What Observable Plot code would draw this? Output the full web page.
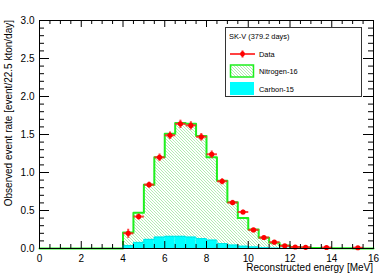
<!DOCTYPE html>
<html><head><meta charset="utf-8">
<script src="https://cdn.jsdelivr.net/npm/d3@7"></script>
<script src="https://cdn.jsdelivr.net/npm/@observablehq/plot@0.6"></script>
<style>body{margin:0;background:#fff;font-family:"Liberation Sans",Arial,sans-serif;}</style>
</head><body><div id="chart"></div>
<script>
// Histogram bins (lower edge, MeV), width 0.5 MeV
const binLow = [0,0.5,1,1.5,2,2.5,3,3.5,4,4.5,5,5.5,6,6.5,7,7.5,8,8.5,9,9.5,10,10.5,11,11.5,12,12.5,13,13.5,14,14.5,15,15.5];
const binWidth = 0.5;
// Nitrogen-16 MC (event/22.5 kton/day)
const n16 = [0,0,0,0,0,0,0,0,0.21,0.47,0.84,1.20,1.51,1.65,1.64,1.48,1.20,0.89,0.61,0.40,0.25,0.14,0.075,0.04,0.02,0.012,0.008,0.005,0.003,0.002,0.001,0.001];
// Carbon-15 MC
const c15 = [0,0,0,0,0,0,0,0,0.04,0.08,0.12,0.15,0.16,0.16,0.15,0.13,0.11,0.065,0.045,0.03,0.02,0.01,0.005,0.003,0.002,0.001,0,0,0,0,0,0];
// Data points
const dataE = [4.25,4.75,5.25,5.75,6.25,6.75,7.25,7.75,8.25,8.75,9.25,9.75,10.25,10.75,11.25,11.75,12.25,12.75,13.75,15.25];
const dataRate = [0.20,0.42,0.84,1.20,1.49,1.64,1.62,1.47,1.24,0.885,0.605,0.48,0.245,0.145,0.083,0.035,0.02,0.015,0.013,0.01];
const dataErr = [0.06,0.04,0.04,0.05,0.05,0.055,0.055,0.05,0.05,0.04,0.035,0.03,0.02,0.015,0.012,0.01,0.008,0.006,0.006,0.005];
// Axis ticks
const xMajor = [0,2,4,6,8,10,12,14,16];
const yMajor = [0,0.5,1,1.5,2,2.5,3];
const xMinor = d3.range(0, 16.01, 0.5).filter(v => v % 2 !== 0);
const yMinor = d3.range(0, 3.001, 0.1).map(v => +v.toFixed(1)).filter(v => Math.abs(v*2 - Math.round(v*2)) > 1e-6);
const xLabel = "Reconstructed energy [MeV]";
const yLabel = "Observed event rate [event/22.5 kton/day]";
const legendTitle = "SK-V (379.2 days)";
const legendItems = ["Data", "Nitrogen-16", "Carbon-15"];

const bins = binLow.map((x, i) => ({x1: x, x2: x + binWidth, n16: n16[i], c15: c15[i]}));
const stepN16 = bins.map(b => ({x: b.x1, y: b.n16})).concat([{x: 16, y: n16[n16.length-1]}]);
const stepC15 = bins.map(b => ({x: b.x1, y: b.c15})).concat([{x: 16, y: c15[c15.length-1]}]);
const pts = dataE.map((e, i) => ({e, v: dataRate[i], err: dataErr[i]}));

// tick lengths in data units (x: 16/334 per px, y: 3/228 per px)
const xpx = 16/334, ypx = 3/228;

const plot = Plot.plot({
  width: 389, height: 279,
  marginLeft: 39, marginRight: 16, marginTop: 20, marginBottom: 31,
  x: {domain: [0, 16], axis: null},
  y: {domain: [0, 3], axis: null},
  style: {fontFamily: "'Liberation Sans', Arial, sans-serif", fontSize: "10px", color: "#000"},
  marks: [
    Plot.rectY(bins, {x1: "x1", x2: "x2", y: "n16", fill: "url(#hatch)"}),
    Plot.line(stepN16, {x: "x", y: "y", curve: "step-after", stroke: "#1ef01e", strokeWidth: 2}),
    Plot.rectY(bins, {x1: "x1", x2: "x2", y: "c15", fill: "#00ffff"}),
    Plot.line(stepC15, {x: "x", y: "y", curve: "step-after", stroke: "#00e5e5", strokeWidth: 1}),
    Plot.link(pts, {x1: d => d.e - 0.25, x2: d => d.e + 0.25, y1: "v", y2: "v", stroke: "#ff2020", strokeWidth: 2, strokeOpacity: 0.85}),
    Plot.link(pts, {x1: "e", x2: "e", y1: d => d.v - d.err, y2: d => d.v + d.err, stroke: "#ff2020", strokeWidth: 2, strokeOpacity: 0.85}),
    Plot.dot(pts, {x: "e", y: "v", r: 2.6, fill: "#ff0000", stroke: "none"}),
    Plot.frame({stroke: "#000", strokeWidth: 1}),
    // bottom & top ticks
    Plot.ruleX(xMajor, {x: d => d, y1: 0, y2: 7*ypx, stroke: "#000"}),
    Plot.ruleX(xMinor, {x: d => d, y1: 0, y2: 4*ypx, stroke: "#000"}),
    Plot.ruleX(xMajor, {x: d => d, y1: 3, y2: 3 - 7*ypx, stroke: "#000"}),
    Plot.ruleX(xMinor, {x: d => d, y1: 3, y2: 3 - 4*ypx, stroke: "#000"}),
    // left & right ticks
    Plot.ruleY(yMajor, {y: d => d, x1: 0, x2: 10*xpx, stroke: "#000"}),
    Plot.ruleY(yMinor, {y: d => d, x1: 0, x2: 5*xpx, stroke: "#000"}),
    Plot.ruleY(yMajor, {y: d => d, x1: 16, x2: 16 - 10*xpx, stroke: "#000"}),
    Plot.ruleY(yMinor, {y: d => d, x1: 16, x2: 16 - 5*xpx, stroke: "#000"}),
    // tick labels
    Plot.text(xMajor, {x: d => d, y: 0, text: d => String(d), dy: 10, fill: "#000", fontSize: 10}),
    Plot.text(yMajor, {x: 0, y: d => d, text: d => d.toFixed(1), dx: -5, textAnchor: "end", fill: "#000", fontSize: 10})
  ]
});

const svg = d3.select(plot);
const defs = svg.insert("defs", ":first-child");
const pat = defs.append("pattern").attr("id", "hatch").attr("patternUnits", "userSpaceOnUse")
  .attr("width", 3).attr("height", 3);
pat.append("rect").attr("width", 3).attr("height", 3).attr("fill", "#fff");
pat.append("path").attr("d", "M-1,-1L4,4M-1,2L1,4M2,-1L4,1").attr("stroke", "#9ee89e").attr("stroke-width", 0.8);

// axis titles
svg.append("text").attr("x", 373).attr("y", 271).attr("text-anchor", "end")
  .attr("font-size", 10).attr("fill", "#000").text(xLabel);
svg.append("text").attr("transform", "translate(12,20) rotate(-90)").attr("text-anchor", "end")
  .attr("font-size", 10).attr("fill", "#000").text(yLabel);

// legend
const lg = svg.append("g").attr("font-size", 7.4).attr("text-anchor", "start");
lg.append("rect").attr("x", 225.5).attr("y", 27.5).attr("width", 136).attr("height", 69)
  .style("fill", "#fff").style("stroke", "#333").style("stroke-width", "1px");
lg.append("text").attr("x", 229).attr("y", 39).attr("fill", "#000").attr("text-anchor", "start").text(legendTitle);
lg.append("line").attr("x1", 230).attr("x2", 255).attr("y1", 54).attr("y2", 54).attr("stroke", "#ff2020").attr("stroke-width", 2).attr("stroke-opacity", 0.85);
lg.append("line").attr("x1", 242.5).attr("x2", 242.5).attr("y1", 50.5).attr("y2", 57.5).attr("stroke", "#ff2020").attr("stroke-width", 2);
lg.append("circle").attr("cx", 242.5).attr("cy", 54).attr("r", 2.4).attr("fill", "#ff0000");
lg.append("rect").attr("x", 230.5).attr("y", 65).attr("width", 23).attr("height", 12).attr("fill", "url(#hatch)").attr("stroke", "#1ef01e").attr("stroke-width", 1.5);
lg.append("rect").attr("x", 230).attr("y", 82).attr("width", 24).attr("height", 13).attr("fill", "#00ffff");
lg.append("text").attr("x", 259).attr("y", 57).attr("fill", "#000").attr("text-anchor", "start").text(legendItems[0]);
lg.append("text").attr("x", 259).attr("y", 74).attr("fill", "#000").attr("text-anchor", "start").text(legendItems[1]);
lg.append("text").attr("x", 259).attr("y", 91.5).attr("fill", "#000").attr("text-anchor", "start").text(legendItems[2]);

document.getElementById("chart").appendChild(plot);
</script>
</body></html>
